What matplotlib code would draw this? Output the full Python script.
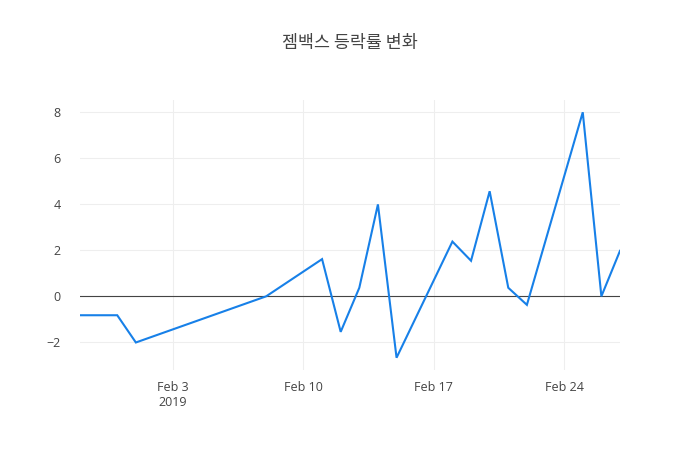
import numpy as np
import pandas as pd
import matplotlib
matplotlib.use('Agg')
import matplotlib.pyplot as plt
import matplotlib.dates as mdates

plt.rcParams['font.family'] = ['Open Sans', 'Noto Sans CJK KR', 'DejaVu Sans']

# data
dates = ['2019-01-29', '2019-01-31', '2019-02-01', '2019-02-08', '2019-02-11',
         '2019-02-12', '2019-02-13', '2019-02-14', '2019-02-15', '2019-02-18',
         '2019-02-19', '2019-02-20', '2019-02-21', '2019-02-22', '2019-02-25',
         '2019-02-26', '2019-02-27']
change = [-0.82, -0.82, -2.0, 0.0, 1.61, -1.54, 0.37, 3.98, -2.66, 2.37,
          1.54, 4.55, 0.37, -0.37, 7.97, 0.0, 1.97]
title = '젬백스 등락률 변화'
tick_dates = ['2019-02-03', '2019-02-10', '2019-02-17', '2019-02-24']
tick_labels = ['Feb 3\n2019', 'Feb 10', 'Feb 17', 'Feb 24']
y_ticks = [-2, 0, 2, 4, 6, 8]

x = pd.to_datetime(dates)

fig = plt.figure(figsize=(7, 4.5), dpi=100)
ax = fig.add_axes([80 / 700, 80 / 450, 540 / 700, 270 / 450])

ax.plot(x, change, color='#1780e8', linewidth=1.5, zorder=3, solid_joinstyle='miter')
ax.axhline(0, color='#444444', linewidth=0.8, zorder=2)

ax.set_xlim(x[0], x[-1])
span = max(change) - min(change)
ax.set_ylim(min(change) - span * 0.05, max(change) + span * 0.05)

ax.set_xticks(pd.to_datetime(tick_dates))
ax.set_xticklabels(tick_labels)
ax.set_yticks(y_ticks)
ax.set_yticklabels(['\u2212' + str(-v) if v < 0 else str(v) for v in y_ticks])

ax.grid(True, color='#eeeeee', linewidth=0.75, zorder=0)
for s in ax.spines.values():
    s.set_visible(False)
ax.tick_params(length=0, labelsize=9, colors='#444444', pad=8)
ax.tick_params(axis='y', pad=14)

fig.text(0.5, 1 - 43 / 450, title, ha='center', va='center', fontsize=12.5,
         color='#444444', family=['Noto Sans CJK KR', 'DejaVu Sans'])

fig.savefig('out.png', dpi=100)
